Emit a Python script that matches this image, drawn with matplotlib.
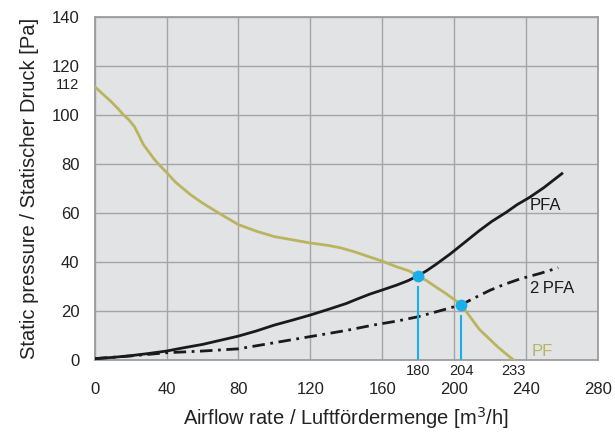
import matplotlib.pyplot as plt
import numpy as np

plt.rcParams['font.family'] = ['Liberation Sans', 'DejaVu Sans']

# fan curve (PF) and system curves
pf_x = [0, 9, 13, 16, 19, 22, 24, 27, 30, 33, 36, 40, 45, 53, 60, 70, 80, 90, 100, 110,
        120, 130, 137, 145, 153, 160, 168, 175, 180, 185, 190, 196, 204, 209, 214, 219, 224, 228, 233]
pf_y = [111.5, 105.5, 102.5, 100, 98, 95.3, 92.5, 88, 85, 82, 79.5, 76.5, 72.5, 67.6, 64, 59.5, 55.2, 52.5, 50.3, 49,
        47.7, 46.7, 45.7, 44, 42, 40.3, 38, 36.3, 34.3, 32.2, 29.7, 26.8, 22.5, 17.5, 12.5, 9, 5.5, 3, 0]

pfa_x = [0, 10, 20, 30, 40, 50, 60, 70, 80, 90, 100, 110, 120, 130, 140, 146, 153, 160, 168, 174,
         180, 185, 190, 198, 206, 214, 221, 229, 235, 242, 250, 260]
pfa_y = [0.5, 1.0, 1.7, 2.6, 3.6, 5.0, 6.3, 8.0, 9.7, 11.8, 14.2, 16.2, 18.3, 20.6, 23.0, 24.8, 26.8, 28.5, 30.5, 32.2,
         34.3, 36.5, 39.0, 43.3, 48.0, 52.7, 56.5, 60.2, 63.3, 66.3, 70.3, 76.0]

pfa2_x = [0, 20, 40, 60, 80, 100, 120, 140, 155, 168, 180, 192, 204, 212, 220, 228, 237, 248, 258]
pfa2_y = [0.5, 1.6, 2.9, 3.6, 4.5, 7.0, 9.5, 12.0, 14.2, 15.8, 17.6, 20.0, 22.5, 25.5, 28.4, 30.8, 33.1, 35.3, 37.6]

# operating points and marked values
op_x = [180, 204]
op_y = [34.3, 22.5]
mark_x = [180, 204, 233]
start_y = 112

x_ticks = [0, 40, 80, 120, 160, 200, 240, 280]
y_ticks = [0, 20, 40, 60, 80, 100, 120, 140]

olive = '#bab45f'
blue = '#1aaeea'
grid_c = '#a4a5a7'
txt = '#222222'

fig = plt.figure(figsize=(6.15, 4.32), dpi=100)
ax = fig.add_axes([0.154, 0.167, 0.818, 0.794])
ax.set_facecolor('#e2e3e5')

ax.set_xlim(0, 280)
ax.set_ylim(0, 140)
ax.set_xticks(x_ticks)
ax.set_yticks(y_ticks)
ax.grid(True, color=grid_c, lw=1.0)
ax.set_axisbelow(True)
ax.tick_params(length=0, labelsize=12, colors=txt)
ax.tick_params(axis='x', pad=16)
ax.tick_params(axis='y', pad=11)
for s in ax.spines.values():
    s.set_color('#9c9d9f')
    s.set_linewidth(1.3)

ax.plot(pf_x, pf_y, color=olive, lw=2.0, zorder=3)
ax.plot(pfa_x, pfa_y, color='#1a1a1a', lw=2.0, zorder=3)
ax.plot(pfa2_x, pfa2_y, color='#1a1a1a', lw=2.0, dashes=(4.5, 2, 1, 2), zorder=3)

# drop lines and operating points
for xv, yv in zip(op_x, op_y):
    ax.plot([xv, xv], [0, yv - 4.5], color=blue, lw=1.5, zorder=4)
ax.scatter(op_x, op_y, s=72, color=blue, zorder=5, linewidths=0)

# curve names
ax.text(242, 63, 'PFA', fontsize=12, color='#1a1a1a', va='center')
ax.text(242, 29, '2\u2009PFA', fontsize=12, color='#1a1a1a', va='center')
ax.text(243, 3.5, 'PF', fontsize=12, color=olive, va='center')

# small value labels
xt = ax.get_xaxis_transform()
for xv in mark_x:
    ax.text(xv, -0.032, str(xv), transform=xt, ha='center', va='center', fontsize=10.5, color=txt)
yt = ax.get_yaxis_transform()
ax.text(-0.03, start_y, str(start_y), transform=yt, ha='right', va='center', fontsize=10.5, color=txt)

ax.set_xlabel('Airflow rate / Luftfördermenge [m$^3$/h]', fontsize=14.5, labelpad=6, color=txt)
ax.set_ylabel('Static pressure / Statischer Druck [Pa]', fontsize=14.5, labelpad=9, color=txt)

fig.savefig('out.png', dpi=100)
